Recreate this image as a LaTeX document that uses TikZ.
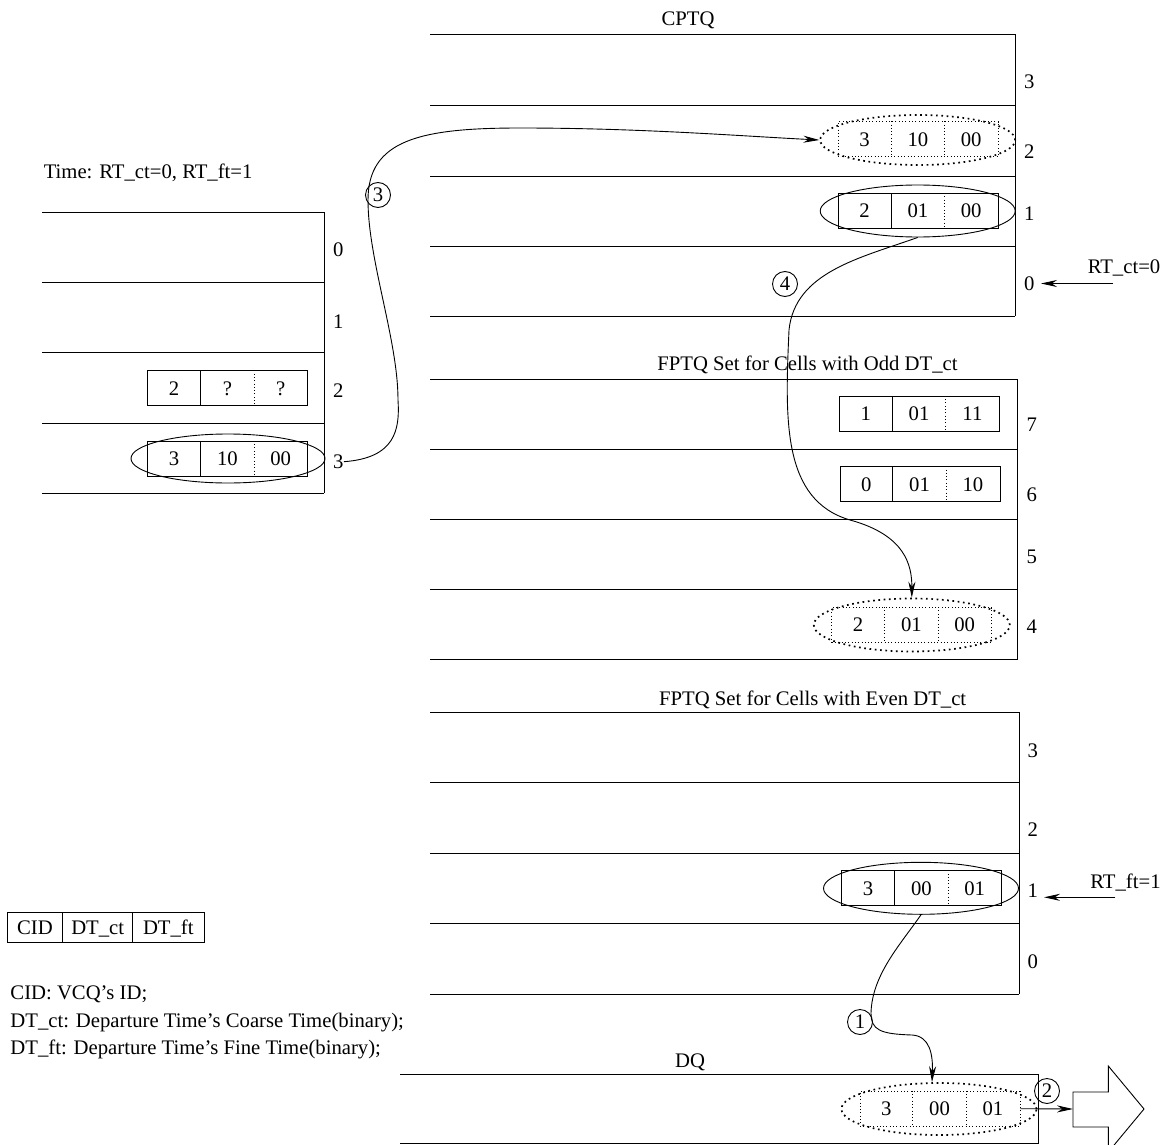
\documentclass[tikz,border=0pt]{standalone}
\usepackage{fontspec}
\setmainfont{Liberation Serif}
\usetikzlibrary{arrows.meta,shapes.geometric}
\newcommand{\drawrec}[7]{%
  \node[recbox,#7] (#1) at (#2,#3) {};
  \draw[#7] ([xshift=53.33pt]#1.north west) -- ([xshift=53.33pt]#1.south west);
  \draw[dots] ([xshift=106.67pt]#1.north west) -- ([xshift=106.67pt]#1.south west);
  \node[txt] (#1a) at ([xshift=26.67pt]#1.west) {#4};
  \node[txt] (#1b) at ([xshift=80pt]#1.west) {#5};
  \node[txt] (#1c) at ([xshift=133.33pt]#1.west) {#6};
}
\begin{document}
\begin{tikzpicture}[x=1pt,y=-1pt,
  font=\fontsize{20.7pt}{24pt}\selectfont,
  line width=0.9pt,
  txt/.style={inner sep=0pt,text height=13.8pt,text depth=0pt},
  recbox/.style={draw,rectangle,minimum width=160pt,minimum height=35pt,inner sep=0pt},
  ell/.style={draw,ellipse,minimum width=195pt,minimum height=51pt,inner sep=0pt},
  dots/.style={line width=0.9pt,dash pattern=on 0.9pt off 2.4pt},
  bigdots/.style={line width=1.7pt,dash pattern=on 1.7pt off 3.6pt},
  circ/.style={draw,circle,minimum size=25pt,inner sep=0pt,line width=0.9pt},
  arr/.style={-{Stealth[length=16pt,width=7pt]}},
]
\useasboundingbox (0,0) rectangle (1167,1145);

% ---------- left queue ----------
\node[txt,anchor=west] (time) at (43.3,171.7) {Time: RT\_ct=0, RT\_ft=1};
\foreach \y in {212.3,282.7,352.7,423.3,493.3} \draw (42,\y) -- (324.3,\y);
\draw (324.3,212.3) -- (324.3,493.3);
\node[txt] (L0lab) at (338.3,250) {0};
\node[txt] (L1lab) at (338.3,321.7) {1};
\node[txt] (L2lab) at (338.3,390.7) {2};
\node[txt] (L3lab) at (338.3,461.7) {3};
\drawrec{L2}{227.8}{388.3}{2}{?}{?}{solid}
\drawrec{L3}{227.8}{458.8}{3}{10}{00}{solid}
\node[ell,minimum width=194pt,minimum height=49pt] (L3e) at (228,458.5) {};

% ---------- CPTQ ----------
\node[txt] (cptq) at (688,19) {CPTQ};
\foreach \y in {34.3,105.7,176,246.7,316} \draw (430,\y) -- (1015.3,\y);
\draw (1015.3,34.3) -- (1015.3,316);
\node[txt] (C3lab) at (1029.3,81.7) {3};
\node[txt] (C2lab) at (1029.3,152) {2};
\node[txt] (C1lab) at (1029.3,213.3) {1};
\node[txt] (C0lab) at (1029.3,283.5) {0};
\drawrec{C2}{918.3}{139.2}{3}{10}{00}{dots}
\node[ell,bigdots,minimum width=195pt,minimum height=50pt] (C2e) at (917.7,140) {};
\drawrec{C1}{918.3}{211}{2}{01}{00}{solid}
\node[ell,minimum width=195pt,minimum height=52pt] (C1e) at (917.7,211) {};
\node[txt] (rtct) at (1124,267) {RT\_ct=0};
\coordinate (rtctS) at (1113,283.5);
\coordinate (rtctE) at (1041,283.5);
\draw[arr] (rtctS) -- (rtctE);

% ---------- FPTQ odd ----------
\node[txt] (fodd) at (807.5,363.3) {FPTQ Set for Cells with Odd DT\_ct};
\foreach \y in {379,449,519.3,589.3,659.3} \draw (430,\y) -- (1017.7,\y);
\draw (1017.7,379) -- (1017.7,659.3);
\node[txt] (F7lab) at (1031.7,425) {7};
\node[txt] (F6lab) at (1031.7,495) {6};
\node[txt] (F5lab) at (1031.7,556.7) {5};
\node[txt] (F4lab) at (1031.7,626.7) {4};
\drawrec{F7}{919.5}{413.8}{1}{01}{11}{solid}
\drawrec{F6}{920}{484.2}{0}{01}{10}{solid}
\drawrec{F4}{911.8}{625}{2}{01}{00}{dots}
\node[ell,bigdots,minimum width=196pt,minimum height=53pt] (F4e) at (911.8,625) {};

% ---------- FPTQ even ----------
\node[txt] (feven) at (812.7,698.3) {FPTQ Set for Cells with Even DT\_ct};
\foreach \y in {712.3,782.7,853.3,923.3,994} \draw (430,\y) -- (1019.4,\y);
\draw (1019.4,712.3) -- (1019.4,994);
\node[txt] (E3lab) at (1032.7,750.7) {3};
\node[txt] (E2lab) at (1032.7,830) {2};
\node[txt] (E1lab) at (1032.7,890.7) {1};
\node[txt] (E0lab) at (1032.7,961.7) {0};
\drawrec{E1}{921.8}{888.2}{3}{00}{01}{solid}
\node[ell,minimum width=195pt,minimum height=52pt] (E1e) at (921,888.3) {};
\node[txt] (rtft) at (1125.5,881.7) {RT\_ft=1};
\coordinate (rtftS) at (1115.4,897.3);
\coordinate (rtftE) at (1044,897.3);
\draw[arr] (rtftS) -- (rtftE);

% ---------- DQ ----------
\node[txt] (dq) at (690,1061) {DQ};
\draw (400,1074) -- (1038.3,1074) -- (1038.3,1143.3) -- (400,1143.3);
\drawrec{Dq}{940}{1108.7}{3}{00}{01}{dots}
\node[ell,bigdots,minimum width=195pt,minimum height=52pt] (Dqe) at (939,1109) {};
\draw (1073,1092) -- (1108.3,1092) -- (1108.3,1066) -- (1144,1109) -- (1108.3,1152) -- (1108.3,1127) -- (1073,1127) -- cycle;
\coordinate (outw) at (1073,1109);

% ---------- legend ----------
\node[draw,inner sep=0pt,minimum width=55.4pt,minimum height=30pt,txt] (lcid) at (35,927.7) {CID};
\node[draw,inner sep=0pt,minimum width=70pt,minimum height=30pt,txt] (lct) at (97.7,927.7) {DT\_ct};
\node[draw,inner sep=0pt,minimum width=71.3pt,minimum height=30pt,txt] (lft) at (168.3,927.7) {DT\_ft};
\node[txt,anchor=west] (leg1) at (10,993) {CID: VCQ’s ID;};
\node[txt,anchor=west] (leg2) at (10,1020.5) {DT\_ct: Departure Time’s Coarse Time(binary);};
\node[txt,anchor=west] (leg3) at (10,1047.5) {DT\_ft: Departure Time’s Fine Time(binary);};

% ---------- circled step numbers ----------
\node[circ] (n3) at (378,195) {3};
\node[circ] (n4) at (785,284) {4};
\node[circ] (n1) at (860,1022) {1};
\node[circ] (n2) at (1047,1091) {2};

% ---------- connectors ----------
\draw[arr] (L3lab.east) .. controls (395,458) and (400,430) .. (398,400)
  .. controls (398,340) and (368,260) .. (368,200)
  .. controls (368,140) and (420,128) .. (520,128)
  .. controls (640,128) and (740,136) .. (C2e.west);
\draw[arr] (C1e.south) .. controls (860,258) and (795,272) .. (789,330)
  .. controls (785,420) and (782,500) .. (850,520)
  .. controls (905,535) and (912,565) .. (F4e.north);
\draw[arr] (E1e.south) .. controls (900,945) and (872,975) .. (871,1013)
  .. controls (871,1030) and (880,1034) .. (912,1035)
  .. controls (930,1036) and (933,1055) .. ([xshift=-7pt]Dqe.north);
\draw[arr] (Dq.east) -- (outw);
\end{tikzpicture}
\end{document}
